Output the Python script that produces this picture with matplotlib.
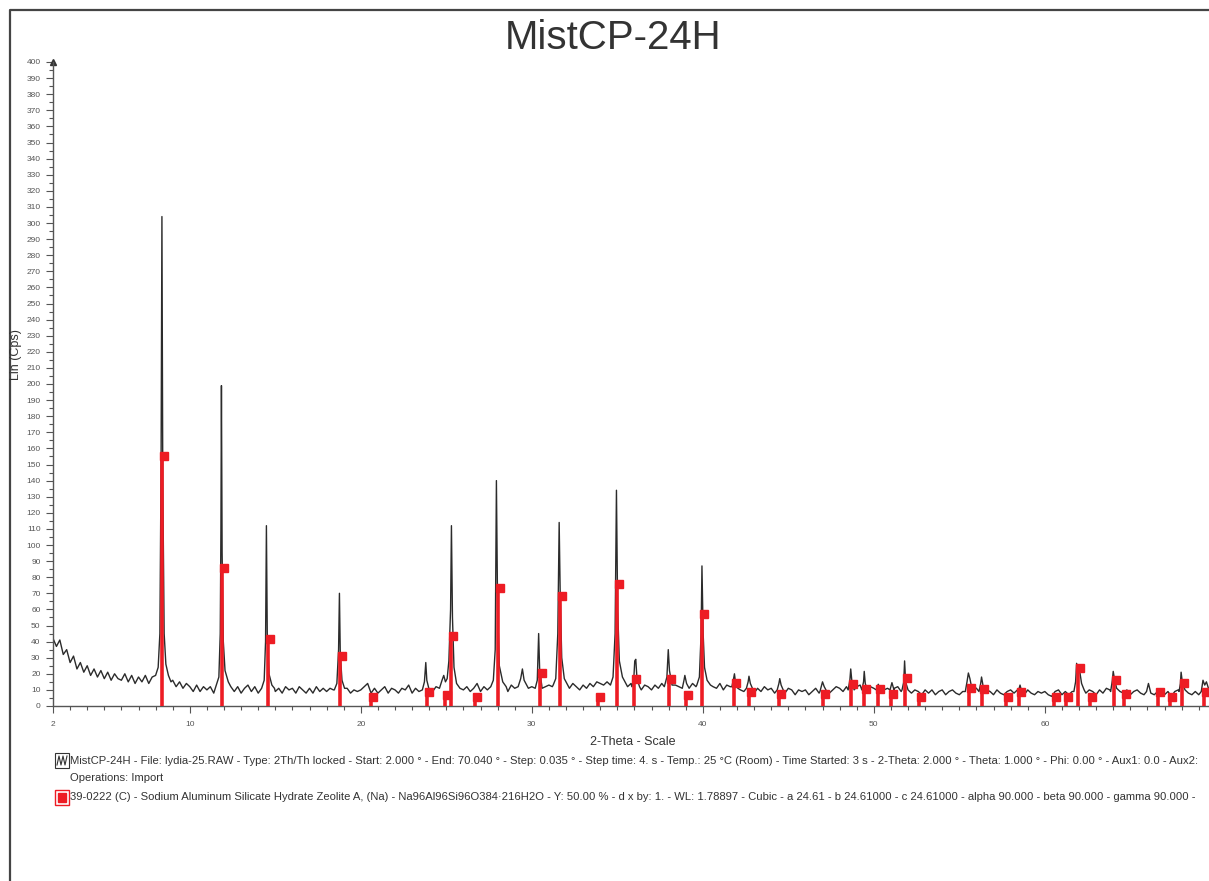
import numpy as np
import matplotlib.pyplot as plt
from matplotlib import transforms
from matplotlib.patches import Rectangle
from matplotlib.ticker import FixedLocator, MultipleLocator

plt.rcParams['font.family'] = ['Liberation Sans', 'DejaVu Sans']

# Scan background (counts read every 0.2 deg, 2.0 .. 70.0)
bg_theta = np.round(np.arange(2.0, 70.01, 0.2), 1)
bg_counts = [
    42, 37, 41, 32, 35, 27, 31, 23, 27, 21,   # 2.0
    25, 19, 23, 18, 22, 17, 21, 16, 20, 17,   # 4.0
    16, 20, 15, 19, 14, 18, 15, 19, 14, 18,   # 6.0
    17, 19, 22, 15, 14, 16, 12, 15, 11, 14,   # 8.0
    12, 9, 13, 9, 12, 10, 12, 8, 11, 13,      # 10.0
    14, 10, 13, 9, 12, 8, 11, 13, 9, 12,      # 12.0
    8, 11, 10, 13, 12, 9, 11, 8, 12, 10,      # 14.0
    11, 8, 12, 10, 8, 11, 8, 12, 9, 11,       # 16.0
    9, 11, 10, 12, 8, 10, 11, 8, 10, 9,       # 18.0
    10, 12, 14, 8, 11, 8, 10, 12, 8, 11,      # 20.0
    10, 8, 11, 10, 13, 8, 11, 9, 12, 10,      # 22.0
    11, 9, 12, 10, 13, 12, 11, 10, 13, 11,    # 24.0
    10, 12, 9, 11, 14, 9, 12, 10, 13, 12,     # 26.0
    13, 11, 12, 9, 13, 11, 12, 14, 12, 11,    # 28.0
    12, 10, 13, 11, 12, 13, 12, 14, 13, 12,   # 30.0
    13, 11, 14, 12, 10, 13, 11, 14, 12, 15,   # 32.0
    14, 13, 15, 14, 16, 13, 14, 13, 12, 14,   # 34.0
    13, 11, 10, 13, 12, 10, 13, 11, 14, 13,   # 36.0
    12, 10, 13, 12, 11, 12, 13, 14, 12, 13,   # 38.0
    14, 13, 15, 12, 11, 14, 10, 13, 12, 10,   # 40.0
    12, 10, 9, 12, 11, 8, 11, 9, 12, 10,      # 42.0
    11, 8, 10, 12, 8, 11, 10, 7, 10, 9,       # 44.0
    10, 7, 9, 11, 8, 10, 11, 8, 10, 12,       # 46.0
    11, 9, 12, 11, 9, 12, 13, 10, 9, 12,      # 48.0
    11, 9, 12, 10, 11, 8, 11, 12, 9, 11,      # 50.0
    10, 8, 10, 9, 7, 10, 8, 10, 7, 9,         # 52.0
    10, 7, 9, 10, 8, 7, 9, 10, 11, 12,        # 54.0
    11, 10, 8, 10, 9, 7, 10, 8, 7, 9,         # 56.0
    10, 8, 10, 9, 7, 10, 8, 7, 9, 8,          # 58.0
    9, 7, 6, 9, 10, 7, 9, 7, 9, 10,           # 60.0
    11, 10, 8, 10, 9, 7, 10, 8, 11, 10,       # 62.0
    12, 11, 9, 8, 10, 7, 9, 10, 8, 7,         # 64.0
    10, 8, 7, 9, 10, 7, 9, 6, 9, 10,          # 66.0
    11, 10, 8, 7, 9, 7, 10, 9, 12, 10,        # 68.0
    11,                                       # 70.0
]

peaks = [
    [(8.0, 19), (8.15, 24), (8.25, 45), (8.32, 150), (8.37, 304), (8.42, 140), (8.5, 45), (8.6, 26), (8.75, 19), (8.9, 15)],
    [(11.55, 13), (11.7, 18), (11.78, 45), (11.82, 110), (11.85, 199), (11.89, 95), (11.96, 40), (12.06, 22), (12.25, 15), (12.4, 12)],
    [(14.2, 11), (14.35, 16), (14.43, 40), (14.48, 112), (14.53, 45), (14.63, 20), (14.8, 13), (14.95, 11)],
    [(18.45, 10), (18.6, 14), (18.7, 35), (18.75, 70), (18.8, 32), (18.9, 16), (19.05, 11)],
    [(23.6, 10), (23.72, 15), (23.8, 27), (23.86, 16), (24.0, 10)],
    [(24.6, 11), (24.75, 16), (24.85, 19), (24.95, 15), (25.05, 17), (25.15, 28), (25.25, 60), (25.3, 112), (25.36, 55), (25.45, 24), (25.6, 14), (25.8, 11)],
    [(27.6, 12), (27.75, 16), (27.86, 35), (27.93, 140), (28.0, 60), (28.1, 25), (28.3, 15), (28.5, 12)],
    [(29.2, 12), (29.35, 17), (29.45, 23), (29.55, 16), (29.75, 12)],
    [(30.2, 11), (30.32, 16), (30.4, 45), (30.46, 22), (30.58, 13)],
    [(31.25, 13), (31.4, 17), (31.52, 45), (31.6, 114), (31.66, 70), (31.75, 30), (31.9, 17), (32.1, 13)],
    [(34.6, 13), (34.75, 18), (34.87, 45), (34.95, 134), (35.02, 60), (35.12, 28), (35.3, 18), (35.5, 14)],
    [(35.85, 12), (35.97, 18), (36.02, 28), (36.08, 29), (36.15, 17), (36.3, 12)],
    [(37.75, 12), (37.9, 18), (37.98, 35), (38.05, 22), (38.2, 13)],
    [(38.8, 11), (38.9, 16), (38.95, 19), (39.05, 14), (39.2, 11)],
    [(39.65, 13), (39.8, 18), (39.9, 45), (39.95, 87), (40.02, 45), (40.1, 24), (40.25, 16), (40.45, 13)],
    [(41.7, 12), (41.8, 17), (41.85, 20), (41.92, 14), (42.05, 11)],
    [(42.55, 11), (42.65, 15), (42.7, 18.5), (42.78, 14), (42.9, 11)],
    [(44.35, 10), (44.45, 14), (44.5, 17), (44.58, 13), (44.7, 10)],
    [(46.85, 9), (46.95, 13), (47.0, 15), (47.1, 12), (47.25, 9)],
    [(48.5, 10), (48.6, 16), (48.65, 23), (48.72, 15), (48.85, 10)],
    [(49.3, 10), (49.4, 15), (49.44, 21.5), (49.5, 14), (49.62, 10)],
    [(50.15, 10), (50.26, 13.5), (50.38, 10)],
    [(50.95, 10), (51.06, 14.5), (51.18, 10)],
    [(51.65, 10), (51.75, 15), (51.8, 28), (51.86, 15), (52.0, 10)],
    [(55.35, 9), (55.45, 15), (55.53, 20.5), (55.62, 17), (55.75, 10)],
    [(56.15, 9), (56.25, 14), (56.3, 18), (56.38, 13), (56.5, 9)],
    [(58.45, 9), (58.55, 13), (58.65, 9)],
    [(61.7, 9), (61.8, 15), (61.86, 26.5), (61.95, 21), (62.05, 21), (62.15, 14), (62.3, 10)],
    [(63.85, 9), (63.95, 16), (64.0, 21.5), (64.07, 17), (64.2, 11)],
    [(65.95, 9), (66.06, 14), (66.15, 10)],
    [(67.85, 9), (67.93, 14), (67.97, 21), (68.05, 14), (68.2, 10)],
    [(69.15, 9), (69.25, 16), (69.35, 13), (69.45, 15), (69.6, 10)],
]

# Reference card 39-0222 Zeolite A (Na): stick positions and heights
ref_theta = [8.37, 11.88, 14.57, 18.78, 20.6, 23.85, 24.9, 25.3, 26.66, 28.04, 30.5, 31.65,
             33.9, 34.98, 36.0, 38.02, 39.0, 39.97, 41.84, 42.7, 44.47, 47.05, 48.65, 49.44,
             50.23, 51.02, 51.82, 52.62, 55.57, 56.3, 57.73, 58.47, 60.56, 61.24, 61.96, 62.64,
             64.03, 64.65, 66.64, 67.32, 68.0, 69.3]
ref_counts = [155, 86, 41.6, 31, 5.6, 8.7, 7, 43.3, 5.6, 73, 20.3, 68.5,
              5.6, 76, 17, 17, 7, 57, 14.2, 8.7, 7.5, 7.5, 13.5, 10.6,
              10.6, 7.5, 17.2, 5.8, 11, 10.6, 5.4, 8.9, 5.4, 5.4, 23.8, 5.4,
              16.1, 7.5, 8.9, 5.4, 14, 8.9]

x_ticks = [2, 10, 20, 30, 40, 50, 60]

scan_info = ("MistCP-24H - File: lydia-25.RAW - Type: 2Th/Th locked - Start: 2.000 \u00b0 - End: 70.040 \u00b0 - "
             "Step: 0.035 \u00b0 - Step time: 4. s - Temp.: 25 \u00b0C (Room) - Time Started: 3 s - "
             "2-Theta: 2.000 \u00b0 - Theta: 1.000 \u00b0 - Phi: 0.00 \u00b0 - Aux1: 0.0 - Aux2:")
scan_ops = "Operations: Import"
card_info = ("39-0222 (C) - Sodium Aluminum Silicate Hydrate Zeolite A, (Na) - Na96Al96Si96O384\u00b7216H2O - "
             "Y: 50.00 % - d x by: 1. - WL: 1.78897 - Cubic - a 24.61 - b 24.61000 - c 24.61000 - "
             "alpha 90.000 - beta 90.000 - gamma 90.000 -")

# merge background and peaks into one trace
theta = np.array(bg_theta, dtype=float)
counts = np.array(bg_counts, dtype=float)
for pk in peaks:
    px = np.array([p[0] for p in pk])
    py = np.array([p[1] for p in pk])
    keep = (theta < px[0]) | (theta > px[-1])
    theta = np.concatenate([theta[keep], px])
    counts = np.concatenate([counts[keep], py])
order = np.argsort(theta)
theta, counts = theta[order], counts[order]

W, H = 1209, 881
fig = plt.figure(figsize=(W / 100, H / 100), dpi=100)

# overlay in pixel coordinates for frame, title, legend
ov = fig.add_axes([0, 0, 1, 1], zorder=-1)
ov.set_xlim(0, W)
ov.set_ylim(H, 0)
ov.axis('off')
ov.plot([10, 10, W], [H, 10, 10], color='#444444', lw=1.6)
ov.text(613, 38, 'MistCP-24H', ha='center', va='center', fontsize=29, color='#333333')
ov.text(16, 355, 'Lin (Cps)', rotation=90, ha='center', va='center', fontsize=9, color='#333333')
ov.text(633, 742, '2-Theta - Scale', ha='center', va='center', fontsize=9, color='#333333')

red = '#ed1c24'
ov.add_patch(Rectangle((55, 753), 14, 15, fill=False, ec='#333333', lw=0.8))
ov.plot([57, 59, 61, 63, 65, 67], [765, 756, 765, 756, 765, 756], color='#333333', lw=0.8)
ov.add_patch(Rectangle((55, 790), 14, 15, fill=False, ec=red, lw=1.0))
ov.add_patch(Rectangle((58, 793), 8, 9, color=red))
ov.text(70, 761, scan_info, va='center', fontsize=8.1, color='#333333')
ov.text(70, 778, scan_ops, va='center', fontsize=8.1, color='#333333')
ov.text(70, 797, card_info, va='center', fontsize=8.1, color='#333333')

# main plot
ax = fig.add_axes([53 / W, 1 - 706 / H, 1163.5 / W, 644 / H])
ax.set_facecolor('none')
ax.plot(theta, counts, color='#2b2b2b', lw=1.0, zorder=2)
ax.vlines(ref_theta, 0, ref_counts, color=red, lw=2.6, zorder=3)
shift = transforms.offset_copy(ax.transData, fig=fig, x=2, y=0, units='dots')
ax.plot(ref_theta, ref_counts, 's', ms=5.5, color=red, transform=shift, zorder=4, clip_on=False)

ax.set_xlim(2, 70.04)
ax.set_ylim(0, 400)
for s in ['top', 'right']:
    ax.spines[s].set_visible(False)
for s in ['left', 'bottom']:
    ax.spines[s].set_color('#555555')
    ax.spines[s].set_linewidth(1.0)
ax.xaxis.set_major_locator(FixedLocator(x_ticks))
ax.xaxis.set_minor_locator(MultipleLocator(1))
ax.yaxis.set_major_locator(MultipleLocator(10))
ax.yaxis.set_minor_locator(MultipleLocator(5))
ax.tick_params(which='major', labelsize=6, labelcolor='#555555', color='#555555', length=5, width=0.8)
ax.tick_params(which='minor', color='#555555', length=3, width=0.8)
ax.tick_params(axis='x', which='major', pad=6)
ax.tick_params(axis='y', which='major', pad=4)
ax.plot([0], [1], marker='^', ms=4, color='#333333', transform=ax.transAxes, clip_on=False)

fig.savefig('out.png', dpi=100)
